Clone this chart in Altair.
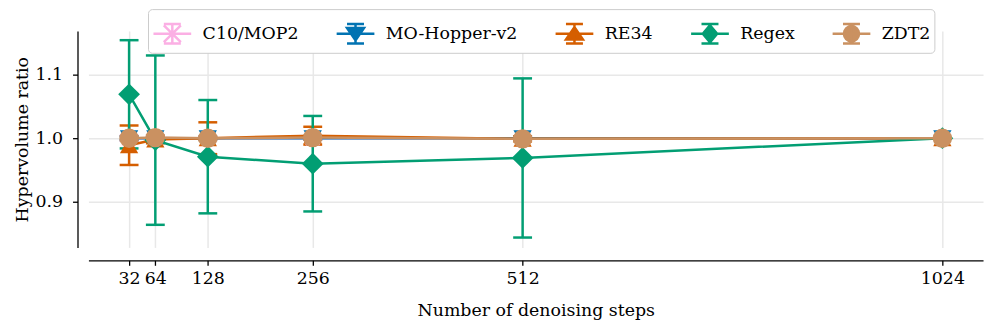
import altair as alt
import pandas as pd

steps = [32, 64, 128, 256, 512, 1024]
series_names = ["C10/MOP2", "MO-Hopper-v2", "RE34", "Regex", "ZDT2"]
colors = ["#fbafe4", "#0173b2", "#d55e00", "#029e73", "#ca9161"]

c10_mean = [1.000, 1.000, 1.000, 1.000, 1.000, 1.000]
c10_err = [0.004, 0.002, 0.002, 0.002, 0.002, 0.0]
hopper_mean = [1.000, 1.000, 1.000, 1.000, 1.000, 1.000]
hopper_err = [0.003, 0.002, 0.002, 0.002, 0.003, 0.0]
re34_mean = [0.989, 0.998, 1.000, 1.004, 0.999, 1.000]
re34_err = [0.031, 0.006, 0.025, 0.014, 0.004, 0.0]
regex_mean = [1.069, 0.997, 0.971, 0.960, 0.969, 1.000]
regex_err = [0.085, 0.133, 0.089, 0.075, 0.125, 0.0]
zdt2_mean = [1.000, 1.001, 1.000, 1.001, 0.999, 1.000]
zdt2_err = [0.003, 0.003, 0.003, 0.003, 0.003, 0.0]

x_ticks = [32, 64, 128, 256, 512, 1024]
y_ticks = [0.9, 1.0, 1.1]

means = [c10_mean, hopper_mean, re34_mean, regex_mean, zdt2_mean]
errs = [c10_err, hopper_err, re34_err, regex_err, zdt2_err]

rows = []
for name, m, e in zip(series_names, means, errs):
    for s, mv, ev in zip(steps, m, e):
        rows.append({"series": name, "steps": s, "mean": mv,
                     "lower": mv - ev, "upper": mv + ev})
df = pd.DataFrame(rows)

FS = 17.5
xscale = alt.Scale(domain=[-17.6, 1073.6], nice=False, zero=False)
yscale = alt.Scale(domain=[0.8285, 1.1685], nice=False, zero=False)
cscale = alt.Scale(domain=series_names, range=colors)

xaxis = alt.Axis(values=x_ticks, format="d", offset=13, title="Number of denoising steps",
                 labelOverlap=False, labelFlush=False, labelPadding=4, titlePadding=15)
yaxis = alt.Axis(values=y_ticks, format=".1f", offset=11, title="Hypervolume ratio",
                 labelPadding=10, titlePadding=4)

X = alt.X("steps:Q", scale=xscale, axis=xaxis)

base = alt.Chart(df)
layers = []

# error bars (below lines and markers)
for name, col in zip(series_names, colors):
    sub = base.transform_filter(alt.datum.series == name)
    layers.append(sub.mark_rule(strokeWidth=2.5, opacity=1, color=col).encode(
        x=X, y=alt.Y("lower:Q", scale=yscale, axis=yaxis), y2="upper:Q"))
    layers.append(sub.mark_tick(orient="horizontal", size=19, thickness=2.5, opacity=1,
                                color=col).encode(
        x=X, y=alt.Y("lower:Q", scale=yscale, axis=yaxis)))
    layers.append(sub.mark_tick(orient="horizontal", size=19, thickness=2.5, opacity=1,
                                color=col).encode(
        x=X, y=alt.Y("upper:Q", scale=yscale, axis=yaxis)))

marker_specs = {
    "C10/MOP2": dict(shape="M-1,-1L1,1M-1,1L1,-1", filled=False, size=190, strokeWidth=2),
    "MO-Hopper-v2": dict(shape="triangle-down", filled=True, size=340),
    "RE34": dict(shape="triangle-up", filled=True, size=340),
    "Regex": dict(shape="diamond", filled=True, size=480),
    "ZDT2": dict(shape="circle", filled=True, size=380),
}

for name, col in zip(series_names, colors):
    sub = base.transform_filter(alt.datum.series == name)
    Y = alt.Y("mean:Q", scale=yscale, axis=yaxis)
    layers.append(sub.mark_line(strokeWidth=2.5, color=col).encode(x=X, y=Y))
    spec = marker_specs[name]
    layers.append(sub.mark_point(opacity=1, color=col, **spec).encode(x=X, y=Y))

# legend-only layer: glyph = horizontal line + error bar with caps + marker
bar = "M-1,0L1,0M0,-0.52L0,0.52M-0.45,-0.52L0.45,-0.52M-0.45,0.52L0.45,0.52"
circ = "M0.4,0" + "".join(
    "L%.3f,%.3f" % (0.4 * c, 0.4 * s) for c, s in [
        (0.924, 0.383), (0.707, 0.707), (0.383, 0.924), (0, 1), (-0.383, 0.924),
        (-0.707, 0.707), (-0.924, 0.383), (-1, 0), (-0.924, -0.383), (-0.707, -0.707),
        (-0.383, -0.924), (0, -1), (0.383, -0.924), (0.707, -0.707), (0.924, -0.383)]) + "Z"
legend_paths = [
    bar + "M-0.45,-0.45L0.45,0.45M-0.45,0.45L0.45,-0.45",
    bar + "M-0.45,-0.3L0.45,-0.3L0,0.35Z",
    bar + "M-0.45,0.3L0.45,0.3L0,-0.35Z",
    bar + "M0,-0.45L0.38,0L0,0.45L-0.38,0Z",
    bar + circ,
]

leg = dict(title=None, orient="none", legendX=60, legendY=-22, direction="horizontal",
           columns=5, symbolSize=1444, symbolStrokeWidth=2.5, symbolOpacity=1,
           labelFontSize=FS, labelFont="DejaVu Serif", labelColor="black",
           labelOffset=10, columnPadding=32.5, padding=4, strokeColor="#cccccc",
           fillColor="white", cornerRadius=4, labelLimit=300)

legend_df = pd.DataFrame({"series": series_names, "steps": [-500] * 5, "mean": [1.0] * 5})
dummy = alt.Chart(legend_df).mark_point(filled=True, clip=True).encode(
    x=X, y=alt.Y("mean:Q", scale=yscale, axis=yaxis),
    fill=alt.Fill("series:N", scale=cscale, legend=alt.Legend(**leg)),
    stroke=alt.Stroke("series:N", scale=cscale, legend=alt.Legend(**leg)),
    shape=alt.Shape("series:N", scale=alt.Scale(domain=series_names, range=legend_paths),
                    legend=alt.Legend(**leg)),
)
layers.append(dummy)

chart = alt.layer(*layers).properties(
    width=901, height=218,
    autosize=alt.AutoSizeParams(type="none"),
    padding={"left": 81, "top": 22, "right": 6, "bottom": 74},
).configure(font="DejaVu Serif").configure_view(stroke=None).configure_axis(
    domainColor="black", domainWidth=1.3, tickColor="black", tickWidth=1.3, tickSize=5,
    gridColor="#e8e8e8", gridWidth=1.5, labelFontSize=FS, titleFontSize=FS,
    labelColor="black", titleColor="black", titleFontWeight="normal",
    labelFont="DejaVu Serif", titleFont="DejaVu Serif",
)

chart.save("out.html", embed_options={"renderer": "svg", "actions": False})
